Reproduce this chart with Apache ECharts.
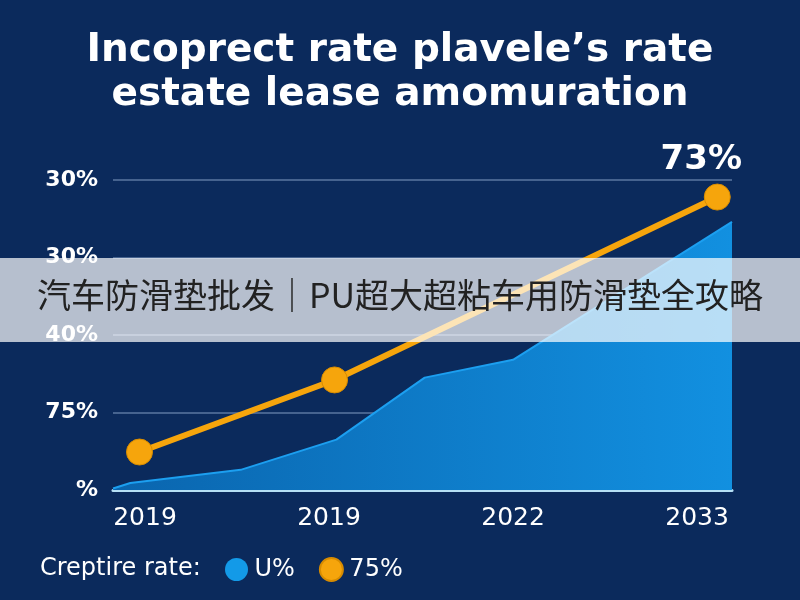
<!DOCTYPE html>
<html>
<head>
<meta charset="utf-8">
<script src="https://cdn.jsdelivr.net/npm/echarts@6/dist/echarts.min.js"></script>
<style>html,body{margin:0;padding:0;background:#0b2a5c;}#c{width:800px;height:600px;}</style>
</head>
<body>
<div id="c"></div>
<script>
// Tick labels
const xLabels = ['2019', '2019', '2022', '2033'];
const yLabels = ['%', '75%', '40%', '30%', '30%'];
// Series: [x position in category units, value in gridline units]
const blueArea = [[-0.174, 0.02], [-0.08, 0.09], [0.52, 0.26], [1.04, 0.65], [1.52, 1.45], [2.0, 1.68], [3.19, 3.46]];
const orangeLine = [[-0.03, 0.49], [1.03, 1.42], [3.11, 3.78]];
const lastLabel = '73%';
const seriesNames = ['U%', '75%'];
const legendTitle = 'Creptire rate:';
const titleText = 'Incoprect rate plavele\u2019s rate\nestate lease amomuration';
const bannerText = '汽车防滑垫批发｜PU超大超粘车用防滑垫全攻略';

const FONT = 'DejaVu Sans';
const chart = echarts.init(document.getElementById('c'));
chart.setOption({
  backgroundColor: '#0b2a5c',
  title: {
    text: titleText,
    left: 'center',
    top: 24,
    textStyle: { color: '#ffffff', fontSize: 39, fontWeight: 'bold', fontFamily: FONT, lineHeight: 44 }
  },
  legend: {
    data: seriesNames,
    left: 220,
    top: 552,
    icon: 'circle',
    itemWidth: 26,
    itemHeight: 23,
    itemGap: 24,
    textStyle: { color: '#ffffff', fontSize: 24, fontFamily: FONT }
  },
  grid: { left: 113, right: 68, top: 180, bottom: 110, containLabel: false },
  xAxis: {
    type: 'value',
    min: -0.174,
    max: 3.19,
    splitLine: { show: false },
    axisTick: { show: false },
    axisLine: { show: true, lineStyle: { color: '#b6e0f5', width: 3 } },
    axisLabel: {
      customValues: [0, 1, 2, 3],
      formatter: v => xLabels[Math.round(v)],
      color: '#ffffff', fontSize: 25, fontFamily: FONT, margin: 16
    }
  },
  yAxis: {
    type: 'value',
    min: 0, max: 4, interval: 1,
    axisLine: { show: false },
    axisTick: { show: false },
    splitLine: { lineStyle: { color: '#5b77a0', width: 1.5 } },
    axisLabel: {
      formatter: v => yLabels[Math.round(v)],
      color: '#ffffff', fontSize: 22, fontWeight: 'bold', fontFamily: FONT, margin: 15
    }
  },
  series: [
    {
      name: seriesNames[0],
      type: 'line',
      data: blueArea,
      symbol: 'none',
      itemStyle: { color: '#139ae8' },
      lineStyle: { color: '#1c9ff0', width: 2 },
      areaStyle: {
        opacity: 1,
        color: new echarts.graphic.LinearGradient(0, 0, 1, 0, [
          { offset: 0, color: '#0a65ae' },
          { offset: 1, color: '#1290e0' }
        ])
      },
      z: 2
    },
    {
      name: seriesNames[1],
      type: 'line',
      data: orangeLine,
      symbol: 'circle',
      symbolSize: 26,
      itemStyle: { color: '#f6a50c', borderColor: '#d88c00', borderWidth: 1 },
      lineStyle: { color: '#f6a50c', width: 6 },
      label: {
        show: true,
        position: 'top',
        offset: [-16, -1],
        formatter: p => p.dataIndex === orangeLine.length - 1 ? lastLabel : '',
        color: '#ffffff', fontSize: 34, fontWeight: 'bold', fontFamily: FONT
      },
      z: 3
    }
  ],
  graphic: [
    {
      type: 'text', left: 40, top: 557, z: 100,
      style: { text: legendTitle, fill: '#ffffff', fontSize: 24, fontFamily: FONT }
    },
    {
      type: 'rect', left: 0, top: 258, z: 100,
      shape: { width: 800, height: 84 },
      style: { fill: 'rgba(255,255,255,0.7)' }
    },
    {
      type: 'text', left: 'center', top: 278, z: 101,
      style: { text: bannerText, fill: '#222222', fontSize: 34, fontFamily: 'Noto Sans CJK SC' }
    }
  ]
});
</script>
</body>
</html>
